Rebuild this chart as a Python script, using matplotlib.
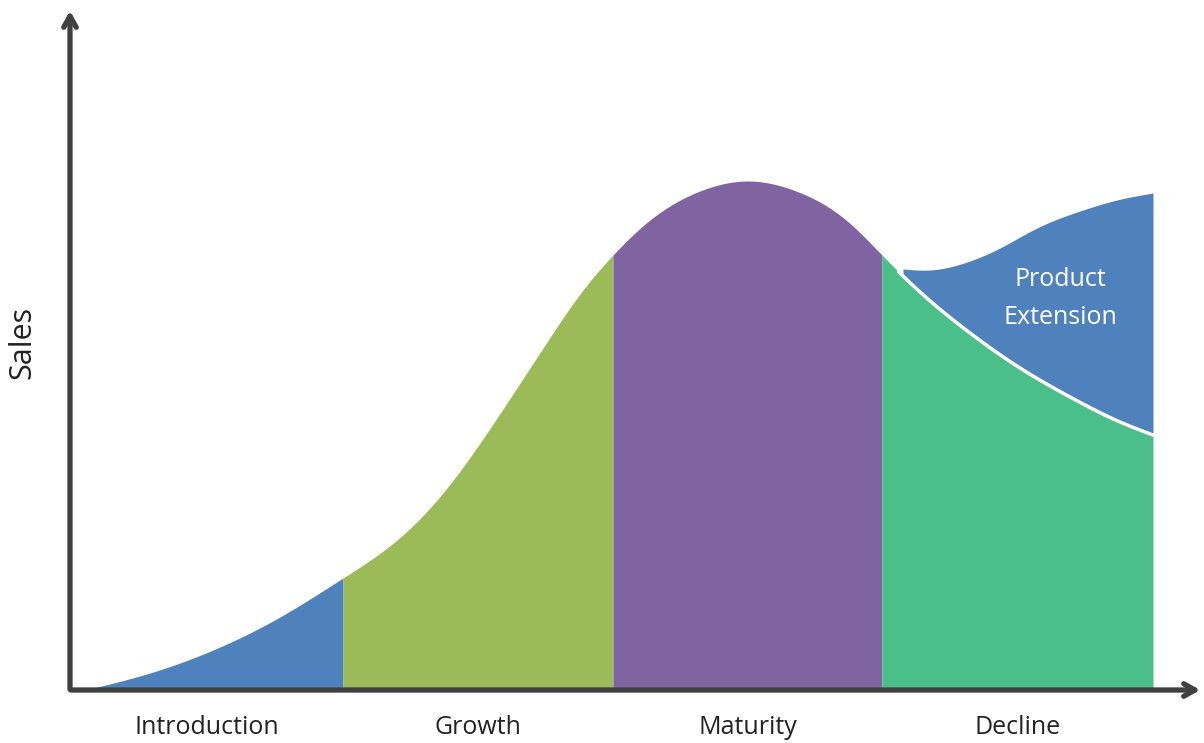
import numpy as np
import matplotlib.pyplot as plt

# stage names and boundaries (time units)
stages = ["Introduction", "Growth", "Maturity", "Decline"]
bounds = [15, 273, 543, 812, 1083]
colors = ["#4F81BD", "#9BBB59", "#8064A2", "#4BBF8A"]

# sales curve
t_pts = [15, 80, 150, 210, 273, 327, 377, 427, 477, 510, 543,
         580, 630, 678, 726, 776, 812, 850, 900, 950, 1000, 1050, 1083]
s_pts = [0, 17, 43, 73, 112, 150, 202, 272, 348, 396, 435,
         470, 499, 509, 499, 470, 435, 398, 357, 322, 293, 268, 255]

# product extension upper edge
ext_t = [833, 860, 897, 930, 963, 1013, 1047, 1083]
ext_s = [421, 420, 428, 442, 460, 480, 490, 497]


def spline(xp, yp, n=1500):
    # natural cubic spline through the read points
    xp = np.asarray(xp, float)
    yp = np.asarray(yp, float)
    k = len(xp)
    h = np.diff(xp)
    A = np.zeros((k, k))
    r = np.zeros(k)
    A[0, 0] = A[-1, -1] = 1
    for i in range(1, k - 1):
        A[i, i - 1] = h[i - 1]
        A[i, i] = 2 * (h[i - 1] + h[i])
        A[i, i + 1] = h[i]
        r[i] = 6 * ((yp[i + 1] - yp[i]) / h[i] - (yp[i] - yp[i - 1]) / h[i - 1])
    M = np.linalg.solve(A, r)
    xs = np.linspace(xp[0], xp[-1], n)
    j = np.clip(np.searchsorted(xp, xs) - 1, 0, k - 2)
    a = xp[j + 1] - xs
    b = xs - xp[j]
    hj = h[j]
    ys = (M[j] * a**3 + M[j + 1] * b**3) / (6 * hj) \
        + (yp[j] / hj - M[j] * hj / 6) * a + (yp[j + 1] / hj - M[j + 1] * hj / 6) * b
    return xs, ys


x, y = spline(t_pts, s_pts)
ex, ey = spline(ext_t, ext_s, 400)

fig = plt.figure(figsize=(12.04, 7.43), dpi=100)
ax = fig.add_axes([0, 0, 1, 1])
ax.set_xlim(-70, 1134)
ax.set_ylim(-53, 690)
ax.axis("off")

# product extension band
yb = np.interp(ex, x, y)
ax.fill_between(ex, yb, np.maximum(ey, yb), color="#4F81BD", lw=0)

for i in range(4):
    m = (x >= bounds[i] - 1) & (x <= bounds[i + 1] + 1)
    xs = np.clip(x[m], bounds[i], bounds[i + 1])
    ax.fill_between(xs, 0, y[m], color=colors[i], lw=0)

md = (x >= 828)
ax.plot(x[md], y[md], color="white", lw=2.5, solid_capstyle="round")

# axes with arrows
axc = "#404040"
ax.annotate("", xy=(0, 682), xytext=(0, -2),
            arrowprops=dict(arrowstyle="->,head_length=0.8,head_width=0.45", color=axc, lw=3.8))
ax.annotate("", xy=(1133, 0), xytext=(-2, 0),
            arrowprops=dict(arrowstyle="->,head_length=0.8,head_width=0.45", color=axc, lw=3.8))

for i, name in enumerate(stages):
    ax.text((bounds[i] + bounds[i + 1]) / 2 + (-7 if i == 0 else 0), -38, name,
            ha="center", va="center", fontsize=18, color="#222222", family="Open Sans")

ax.text(-48, 348, "Sales", rotation=90, ha="center", va="center",
        fontsize=22, color="#222222", family="Open Sans")
ax.text(990, 410, "Product", ha="center", va="center",
        fontsize=18, color="white", family="Open Sans")
ax.text(990, 373, "Extension", ha="center", va="center",
        fontsize=18, color="white", family="Open Sans")

fig.savefig("out.png", dpi=100)
